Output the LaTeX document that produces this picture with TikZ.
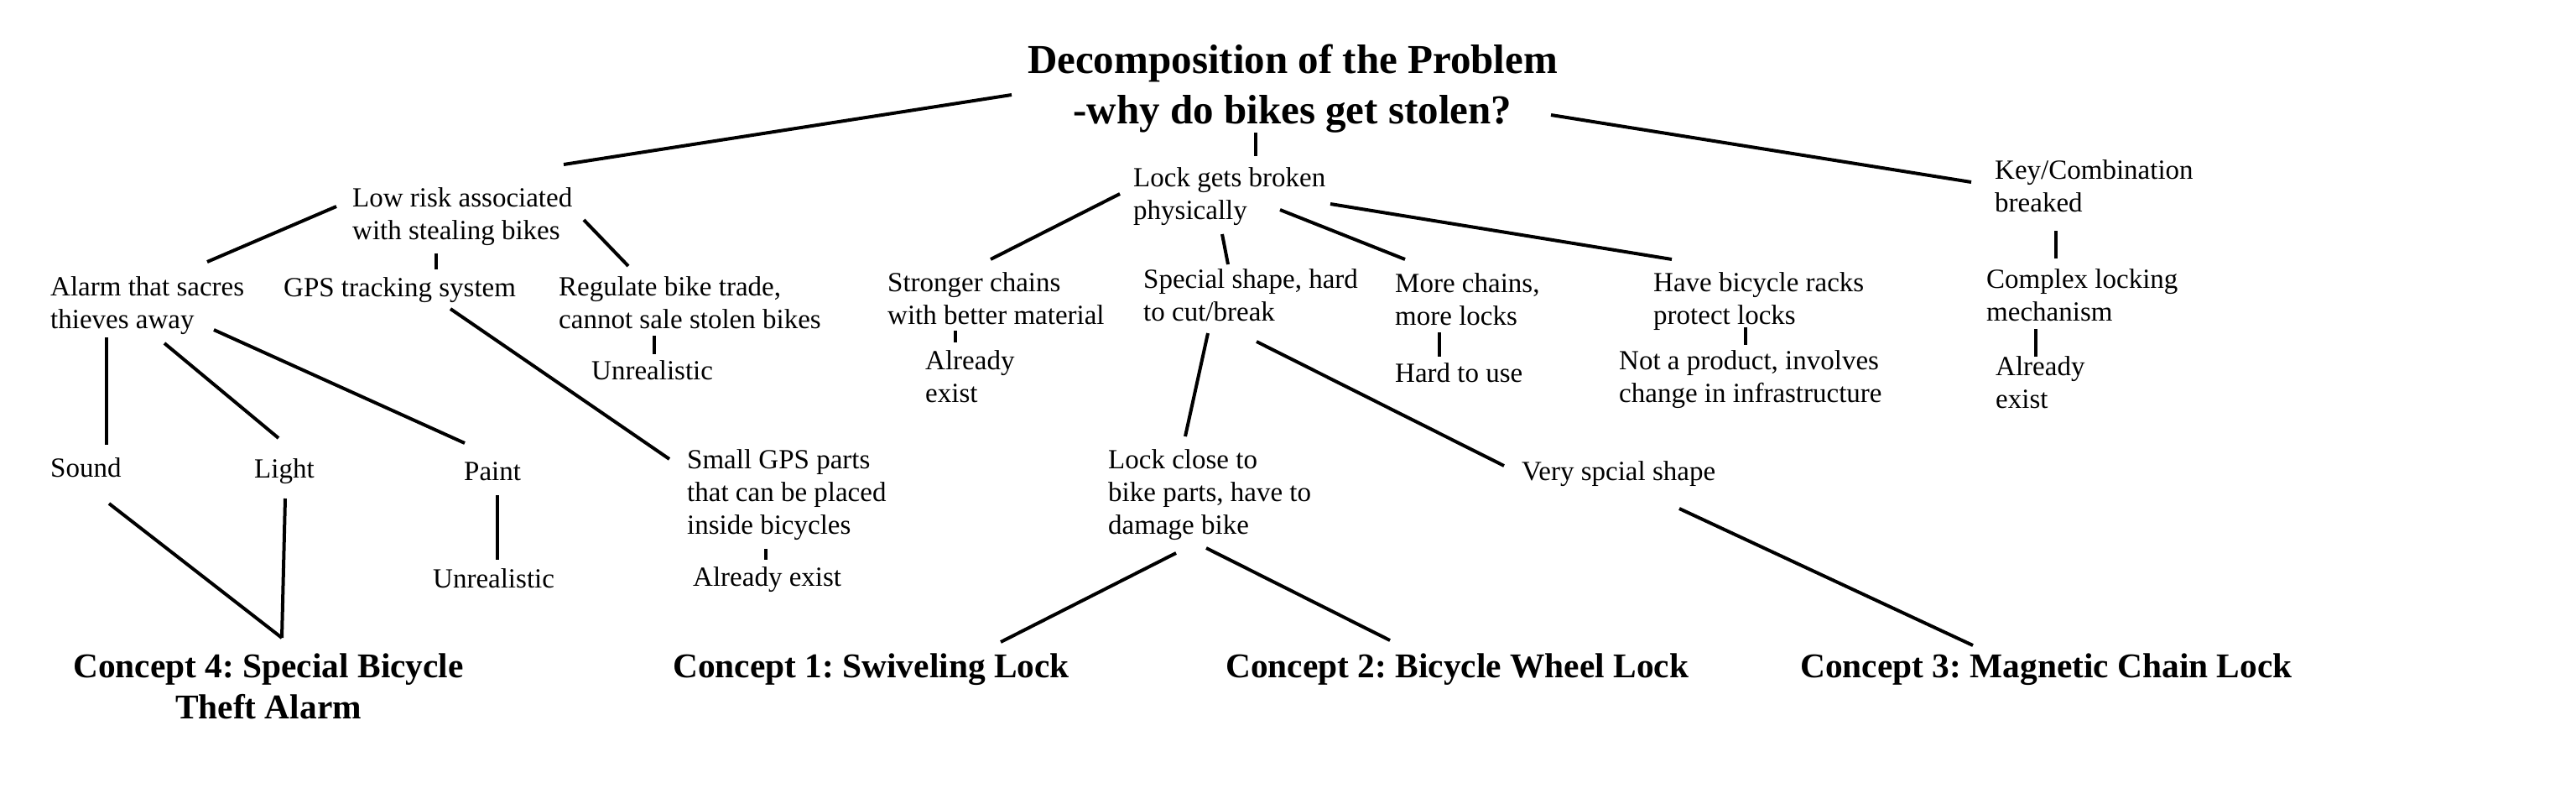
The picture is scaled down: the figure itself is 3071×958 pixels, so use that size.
\documentclass[tikz,border=0pt]{standalone}
\usepackage{fontspec}
\setmainfont{Liberation Serif}
\frenchspacing
\newcommand{\leftlines}[1]{\vtop{\halign{##\hfil\cr#1\crcr}}}
\newcommand{\centerlines}[1]{\vtop{\halign{\hfil##\hfil\cr#1\crcr}}}
\begin{document}
\frenchspacing
\begin{tikzpicture}[x=1pt,y=-1pt,
  txt/.style={inner sep=0pt, anchor=base west, font=\frenchspacing\fontsize{33}{39}\selectfont},
  ttl/.style={inner sep=0pt, anchor=base, font=\frenchspacing\bfseries\fontsize{49}{59}\selectfont},
  concept/.style={inner sep=0pt, anchor=base west, font=\frenchspacing\bfseries\fontsize{41.4}{49}\selectfont},
  link/.style={line width=4pt}]
\path[fill=white] (0,0) rectangle (3071,958);
\useasboundingbox (0,0) rectangle (3071,958);

% nodes
\node[ttl] (title) at (1541,88) {\centerlines{Decomposition of the Problem\cr -why do bikes get stolen?}};
\node[txt] (low) at (420,246) {\leftlines{Low risk associated\cr with stealing bikes}};
\node[txt] (alarm) at (60,352) {\leftlines{Alarm that sacres\cr thieves away}};
\node[txt] (gps) at (338,353) {GPS tracking system};
\node[txt] (reg) at (666,352) {\leftlines{Regulate bike trade,\cr cannot sale stolen bikes}};
\node[txt] (unr1) at (705,452) {Unrealistic};
\node[txt] (sound) at (60,568) {Sound};
\node[txt] (light) at (303,569) {Light};
\node[txt] (paint) at (553,572) {Paint};
\node[txt] (unr2) at (516,700) {Unrealistic};
\node[txt] (small) at (819,558) {\leftlines{Small GPS parts\cr that can be placed\cr inside bicycles}};
\node[txt] (ae1) at (826,698) {Already exist};
\node[concept, anchor=base] (c4) at (320,807) {\centerlines{Concept 4: Special Bicycle\cr Theft Alarm}};
\node[concept] (c1) at (802,807) {Concept 1: Swiveling Lock};
\node[txt] (lock) at (1351,222) {\leftlines{Lock gets broken\cr physically}};
\node[txt] (strong) at (1058,347) {\leftlines{Stronger chains\cr with better material}};
\node[txt] (ae2) at (1103,440) {\leftlines{Already\cr exist}};
\node[txt] (special) at (1363,343) {\leftlines{Special shape, hard\cr to cut/break}};
\node[txt] (more) at (1663,348) {\leftlines{More chains,\cr more locks}};
\node[txt] (hard) at (1663,455) {Hard to use};
\node[txt] (have) at (1971,347) {\leftlines{Have bicycle racks\cr protect locks}};
\node[txt] (notp) at (1930,440) {\leftlines{Not a product, involves\cr change in infrastructure}};
\node[txt] (key) at (2378,213) {\leftlines{Key/Combination\cr breaked}};
\node[txt] (complex) at (2368,343) {\leftlines{Complex locking\cr mechanism}};
\node[txt] (ae3) at (2379,447) {\leftlines{Already\cr exist}};
\node[txt] (lclose) at (1321,558) {\leftlines{Lock close to\cr bike parts, have to\cr damage bike}};
\node[txt] (very) at (1814,572) {Very spcial shape};
\node[concept] (c2) at (1461,807) {Concept 2: Bicycle Wheel Lock};
\node[concept] (c3) at (2146,807) {Concept 3: Magnetic Chain Lock};

% connectors
\draw[link] ([shift={(-335,25)}]title.base) -- ([shift={(252,-50)}]low.base west);
\draw[link] ([shift={(-44,70)}]title.base) -- ([shift={(146,-36)}]lock.base west);
\draw[link] ([shift={(308,49)}]title.base) -- ([shift={(-28,4)}]key.base west);
\draw[link] ([shift={(-19,0)}]low.base west) -- ([shift={(187,-40)}]alarm.base west);
\draw[link] ([shift={(100,56)}]low.base west) -- ([shift={(182,-32)}]gps.base west);
\draw[link] ([shift={(276,16)}]low.base west) -- ([shift={(83,-35)}]reg.base west);
\draw[link] ([shift={(114,48)}]reg.base west) -- ([shift={(75,-30)}]unr1.base west);
\draw[link] ([shift={(67,50)}]alarm.base west) -- ([shift={(67,-38)}]sound.base west);
\draw[link] ([shift={(136,57)}]alarm.base west) -- ([shift={(29,-47)}]light.base west);
\draw[link] ([shift={(195,41)}]alarm.base west) -- ([shift={(1,-44)}]paint.base west);
\draw[link] ([shift={(199,15)}]gps.base west) -- ([shift={(-21,-11)}]small.base west);
\draw[link] ([shift={(40,18)}]paint.base west) -- ([shift={(77,-33)}]unr2.base west);
\draw[link] ([shift={(94,96)}]small.base west) -- ([shift={(87,-31)}]ae1.base west);
\draw[link] ([shift={(70,32)}]sound.base west) -- ([shift={(16,-47)}]c4.base);
\draw[link] ([shift={(37,25)}]light.base west) -- ([shift={(16,-47)}]c4.base);
\draw[link] ([shift={(-16,9)}]lock.base west) -- ([shift={(123,-38)}]strong.base west);
\draw[link] ([shift={(106,57)}]lock.base west) -- ([shift={(101,-28)}]special.base west);
\draw[link] ([shift={(175,28)}]lock.base west) -- ([shift={(12,-39)}]more.base west);
\draw[link] ([shift={(235,21)}]lock.base west) -- ([shift={(22,-38)}]have.base west);
\draw[link] ([shift={(81,47)}]strong.base west) -- ([shift={(36,-32)}]ae2.base west);
\draw[link] ([shift={(53,48)}]more.base west) -- ([shift={(53,-30)}]hard.base west);
\draw[link] ([shift={(110,43)}]have.base west) -- ([shift={(151,-29)}]notp.base west);
\draw[link] ([shift={(73,62)}]key.base west) -- ([shift={(83,-35)}]complex.base west);
\draw[link] ([shift={(59,49)}]complex.base west) -- ([shift={(48,-22)}]ae3.base west);
\draw[link] ([shift={(77,54)}]special.base west) -- ([shift={(92,-38)}]lclose.base west);
\draw[link] ([shift={(135,64)}]special.base west) -- ([shift={(-21,-17)}]very.base west);
\draw[link] ([shift={(81,101)}]lclose.base west) -- ([shift={(391,-42)}]c1.base west);
\draw[link] ([shift={(117,95)}]lclose.base west) -- ([shift={(196,-44)}]c2.base west);
\draw[link] ([shift={(188,34)}]very.base west) -- ([shift={(206,-38)}]c3.base west);
\end{tikzpicture}
\end{document}
